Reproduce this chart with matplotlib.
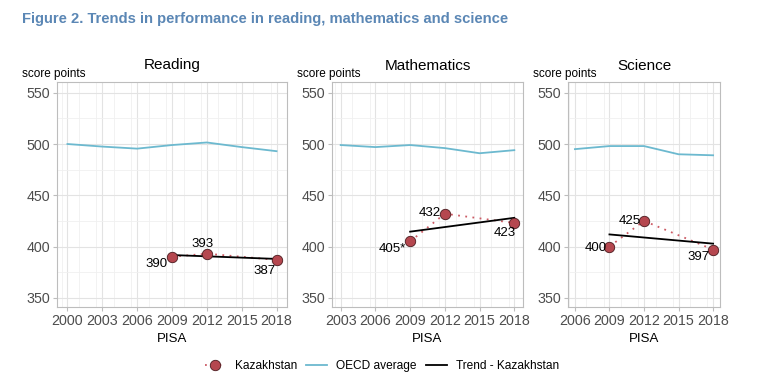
import matplotlib
matplotlib.use("Agg")
import matplotlib.pyplot as plt
from matplotlib.lines import Line2D
from matplotlib.ticker import MultipleLocator

plt.rcParams['font.family'] = ['Liberation Sans', 'DejaVu Sans']

# Data
subjects = ["Reading", "Mathematics", "Science"]

read_oecd_years = [2000, 2003, 2006, 2009, 2012, 2015, 2018]
read_oecd = [500, 497.5, 495.5, 499, 501.5, 497, 493]
read_kaz_years = [2009, 2012, 2018]
read_kaz = [390, 393, 387]
read_kaz_labels = ["390", "393", "387"]
read_trend = [391.7, 387.9]

math_oecd_years = [2003, 2006, 2009, 2012, 2015, 2018]
math_oecd = [499, 497, 499, 496, 491, 494]
math_kaz_years = [2009, 2012, 2018]
math_kaz = [405, 432, 423]
math_kaz_labels = ["405*", "432", "423"]
math_trend = [414.5, 428]

sci_oecd_years = [2006, 2009, 2012, 2015, 2018]
sci_oecd = [495, 498, 498, 490, 489]
sci_kaz_years = [2009, 2012, 2018]
sci_kaz = [400, 425, 397]
sci_kaz_labels = ["400", "425", "397"]
sci_trend = [411.8, 402.8]

# label offsets in pixels (dx, dy) relative to each point
read_offsets = [(-15, -7), (-4, 10), (-12, -11)]
math_offsets = [(-18, -8), (-15, 1), (-10, -10)]
sci_offsets = [(-14, -1), (-14, 0), (-15, -7)]

OECD_COL = "#6cb9cf"
DOT_COL = "#b5474f"
DOT_EDGE = "#4a1a1e"
DOTLINE_COL = "#cc5a64"
TITLE_COL = "#5b87b5"
GRID_COL = "#e3e3e3"
TICK_COL = "#4d4d4d"

W, H = 763, 387
fig = plt.figure(figsize=(W / 100, H / 100), dpi=100)

fig.text(22 / W, 1 - 19 / H, "Figure 2. Trends in performance in reading, mathematics and science",
         fontweight='bold', fontsize=10.6, color=TITLE_COL, ha='left', va='center')

panels = [
    (57, 287, 2000, 0.9, read_oecd_years, read_oecd, read_kaz_years, read_kaz, read_kaz_labels, read_trend, read_offsets),
    (332, 523, 2003, 0.75, math_oecd_years, math_oecd, math_kaz_years, math_kaz, math_kaz_labels, math_trend, math_offsets),
    (568, 720, 2006, 0.6, sci_oecd_years, sci_oecd, sci_kaz_years, sci_kaz, sci_kaz_labels, sci_trend, sci_offsets),
]

top, bottom = 82, 307
for name, p in zip(subjects, panels):
    x0, x1, start, pad, oy, ov, ky, kv, kl, tr, offs = p
    ax = fig.add_axes([x0 / W, 1 - bottom / H, (x1 - x0) / W, (bottom - top) / H])

    ax.plot(oy, ov, color=OECD_COL, lw=1.3, zorder=3)
    ax.plot(ky, kv, color=DOTLINE_COL, lw=1.3, ls=(0, (1, 3)), zorder=3)
    ax.plot([ky[0], ky[-1]], tr, color="black", lw=1.3, zorder=4)
    ax.plot(ky, kv, 'o', ms=7.5, mfc=DOT_COL, mec=DOT_EDGE, mew=0.6, zorder=5)
    for x, y, lab, (dx, dy) in zip(ky, kv, kl, offs):
        ax.annotate(lab, (x, y), xytext=(dx * 0.72, dy * 0.72), textcoords='offset points',
                    ha='center', va='center', fontsize=9.5, color='black', zorder=6)

    ax.set_xlim(start - pad, 2018 + pad)
    ax.set_ylim(341, 560.5)
    ax.xaxis.set_minor_locator(MultipleLocator(1.5))
    ax.yaxis.set_major_locator(MultipleLocator(50))
    ax.yaxis.set_minor_locator(MultipleLocator(25))
    ax.set_xticks(range(start, 2019, 3))
    ax.grid(True, which='major', color=GRID_COL, lw=0.8)
    ax.grid(True, which='minor', color="#f0f0f0", lw=0.6)
    ax.set_axisbelow(True)
    for s in ax.spines.values():
        s.set_color("#bdbdbd")
        s.set_linewidth(0.8)
    ax.tick_params(which='major', length=3, color="#bdbdbd", labelcolor=TICK_COL, labelsize=10.3, pad=2)
    ax.tick_params(which='minor', length=0)

    ax.set_title(name, fontsize=11, pad=9)
    ax.set_xlabel("PISA", fontsize=9.5, labelpad=4)
    ax.annotate("score points", xy=(0, 1), xycoords='axes fraction', xytext=(-35 * 0.72, 2 * 0.72),
                textcoords='offset points', ha='left', va='bottom', fontsize=8.5)

handles = [
    Line2D([], [], color=DOTLINE_COL, ls=(0, (1, 3)), lw=1.3, marker='o', ms=7.5,
           mfc=DOT_COL, mec=DOT_EDGE, mew=0.6),
    Line2D([], [], color=OECD_COL, lw=1.3),
    Line2D([], [], color="black", lw=1.3),
]
fig.legend(handles, ["Kazakhstan", "OECD average", "Trend - Kazakhstan"], loc='center',
           bbox_to_anchor=(382 / W, 1 - 366 / H), ncol=3, frameon=False, fontsize=8.6,
           handlelength=1.7, columnspacing=0.8, handletextpad=0.8)

fig.savefig("out.png", dpi=100)
